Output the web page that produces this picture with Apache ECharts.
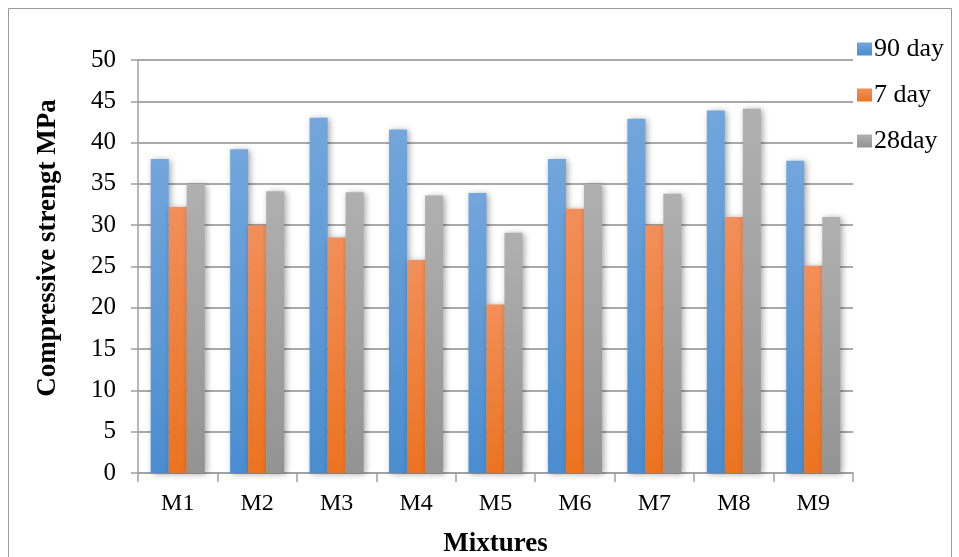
<!DOCTYPE html>
<html>
<head>
<meta charset="utf-8">
<script src="https://cdn.jsdelivr.net/npm/echarts@6/dist/echarts.min.js"></script>
<style>
html,body{margin:0;padding:0;background:#fff;}
#chart{width:959px;height:557px;}
</style>
</head>
<body>
<div id="chart"></div>
<script>
const categories = ['M1','M2','M3','M4','M5','M6','M7','M8','M9'];
const day90 = [38.0, 39.2, 43.0, 41.6, 33.9, 38.0, 42.9, 43.9, 37.8];
const day7  = [32.2, 30.0, 28.5, 25.8, 20.4, 32.0, 30.0, 31.0, 25.1];
const day28 = [35.0, 34.1, 34.0, 33.6, 29.1, 35.0, 33.8, 44.1, 31.0];
const seriesNames = ['90 day', '7 day', '28day'];
const yTicks = [0, 5, 10, 15, 20, 25, 30, 35, 40, 45, 50];

const FONT = '"Liberation Serif", "Times New Roman", serif';
function grad(top, bottom) {
  return new echarts.graphic.LinearGradient(0, 0, 0, 1, [
    {offset: 0, color: top}, {offset: 1, color: bottom}
  ]);
}
const colors = [
  grad('#72a6dc', '#4a8dd0'),
  grad('#f28f5a', '#ec731f'),
  grad('#b0b0b0', '#939393')
];
const data = [day90, day7, day28];

const chart = echarts.init(document.getElementById('chart'), null, {renderer: 'canvas'});
chart.setOption({
  animation: false,
  backgroundColor: '#fff',
  textStyle: {fontFamily: FONT},
  grid: {left: 138, right: 106, top: 60, bottom: 84, containLabel: false, outerBoundsMode: 'none'},
  legend: {
    orient: 'vertical',
    left: 852, top: 31,
    itemWidth: 15, itemHeight: 13,
    itemGap: 20,
    icon: 'rect',
    textStyle: {fontFamily: FONT, fontSize: 26, color: '#000', padding: [0,0,0,-3]},
    data: seriesNames
  },
  xAxis: {
    type: 'category',
    data: categories,
    name: 'Mixtures',
    nameLocation: 'middle',
    nameGap: 58,
    nameTextStyle: {fontFamily: FONT, fontSize: 27, fontWeight: 'bold', color: '#000'},
    axisLine: {lineStyle: {color: '#a0a0a0', width: 1.5}},
    axisTick: {show: true, length: 9, lineStyle: {color: '#a0a0a0', width: 1.5}},
    axisLabel: {fontFamily: FONT, fontSize: 24, color: '#000', margin: 19}
  },
  yAxis: {
    type: 'value',
    min: yTicks[0], max: yTicks[yTicks.length - 1], interval: 5,
    axisLine: {show: true, lineStyle: {color: '#a0a0a0', width: 1.5}},
    axisTick: {show: true, length: 7, lineStyle: {color: '#a0a0a0', width: 1.5}},
    axisLabel: {fontFamily: FONT, fontSize: 25, color: '#000', margin: 22},
    splitLine: {lineStyle: {color: '#8c8c8c', width: 1.5}}
  },
  graphic: [
    {type: 'rect', shape: {x: 8.5, y: 8.5, width: 943, height: 620}, style: {fill: 'none', stroke: '#9a9a9a', lineWidth: 1}, silent: true, z: -10},
    {type: 'text', x: 48, y: 248, rotation: Math.PI / 2, style: {text: 'Compressive strengt MPa', font: 'bold 27px ' + FONT, fill: '#000', align: 'center', verticalAlign: 'middle'}}
  ],
  series: seriesNames.map((n, i) => ({
    name: n,
    type: 'bar',
    data: data[i],
    barGap: '0%',
    barCategoryGap: '32%',
    itemStyle: {
      color: colors[i],
      shadowBlur: 6,
      shadowColor: 'rgba(0,0,0,0.35)',
      shadowOffsetX: 2,
      shadowOffsetY: 1
    }
  }))
});
</script>
</body>
</html>
